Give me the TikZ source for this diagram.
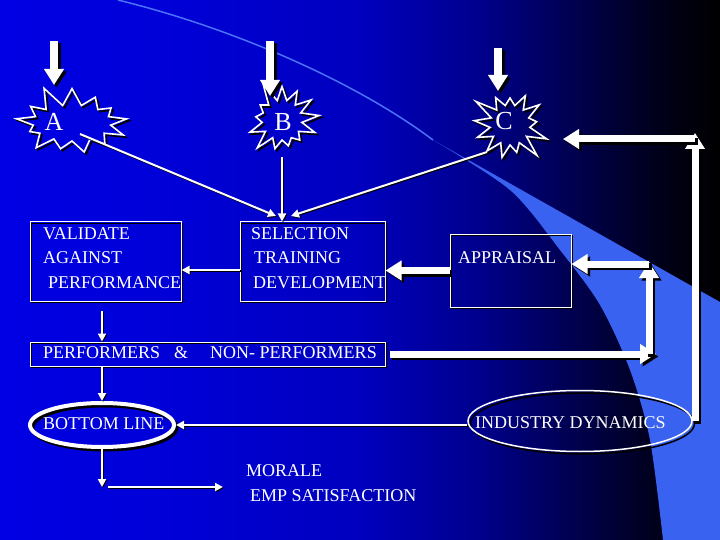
\documentclass[tikz,border=0pt]{standalone}
\usepackage{fontspec}
\setmainfont{Liberation Serif}
\usetikzlibrary{arrows.meta,shapes.symbols,shapes.geometric}
\definecolor{bgA}{RGB}{0,0,228}
\definecolor{bgB}{RGB}{0,0,214}
\definecolor{bgC}{RGB}{0,0,190}
\definecolor{bgD}{RGB}{0,0,140}
\definecolor{bgE}{RGB}{0,0,75}
\definecolor{bgF}{RGB}{0,0,25}
\definecolor{swoosh}{RGB}{58,98,240}
\definecolor{swline}{RGB}{75,115,250}
\pgfdeclarehorizontalshading{slidebg}{100bp}{color(0bp)=(bgA); color(25bp)=(bgA); color(37.5bp)=(bgB); color(50bp)=(bgC); color(58.3bp)=(bgD); color(65.3bp)=(bgE); color(70.8bp)=(bgF); color(75bp)=(black); color(100bp)=(black)}
\tikzset{
  txt/.style={text=white, font=\fontsize{18}{22}\selectfont, inner sep=0pt, anchor=west},
  letter/.style={text=white, font=\fontsize{26}{28}\selectfont, inner sep=0pt},
  boxnode/.style={draw=white, line width=1pt, inner sep=0pt,
    preaction={draw=black, line width=1.2pt, transform canvas={shift={(1.5pt,-1.5pt)}}}},
  burst/.style={starburst, draw=white, line width=1.6pt, inner sep=0pt, starburst points=13,
    starburst point height=22pt,
    preaction={draw=black, line width=1.6pt, transform canvas={shift={(2pt,-2pt)}}}},
  fat/.style={draw=white, line width=7pt, -{Triangle[width=19pt,length=16pt]},
    preaction={draw=black, line width=7pt, -{Triangle[width=19pt,length=16pt]}, transform canvas={shift={(2.5pt,-2.5pt)}}}},
  fatter/.style={fat, line width=8.5pt,
    preaction={draw=black, line width=8.5pt, -{Triangle[width=19pt,length=16pt]}, transform canvas={shift={(2.5pt,-2.5pt)}}}},
  slim/.style={draw=white, line width=2pt, -{Triangle[width=8pt,length=8pt]},
    preaction={draw=black, line width=2pt, -{Triangle[width=8pt,length=8pt]}, transform canvas={shift={(1pt,-1pt)}}}},
}
\begin{document}
\begin{tikzpicture}[x=1pt,y=-1pt]
\shade[shading=slidebg] (0,0) rectangle (720,540);
\useasboundingbox (0,0) rectangle (720,540);
% swoosh
\fill[swoosh] plot[smooth] coordinates {(433,140) (510,190) (560,250) (600,305) (630,370) (650,440) (663,540)}
  -- (720,540) -- (720,302) -- cycle;
\draw[swline, line width=1.5pt] (118,0) .. controls (240,30) and (360,85) .. (433,140);

% starbursts
\node[burst, minimum width=122pt, minimum height=80pt, random starburst=11] (A) at (72,123) {};
\node[burst, minimum width=84pt, minimum height=84pt, random starburst=5] (B) at (282,120) {};
\node[burst, minimum width=84pt, minimum height=84pt, random starburst=3] (C) at (510,125) {};
\node[letter] (Alab) at (54,122) {A};
\node[letter] (Blab) at (283,122) {B};
\node[letter] (Clab) at (504,121) {C};

% boxes
\node[boxnode, minimum width=151pt, minimum height=79pt] (VAL) at (105.5,261.5) {};
\node[boxnode, minimum width=145pt, minimum height=79pt] (SEL) at (312.5,261.5) {};
\node[boxnode, minimum width=121pt, minimum height=73pt] (APP) at (510.5,270.5) {};
\node[boxnode, minimum width=355pt, minimum height=24pt] (PERF) at (207.5,354) {};

\node[txt] (v1) at (43,234) {VALIDATE};
\node[txt] (v2) at (43,258) {AGAINST};
\node[txt] (v3) at (48,283) {PERFORMANCE};
\node[txt] (s1) at (251,234) {SELECTION};
\node[txt] (s2) at (254,258) {TRAINING};
\node[txt] (s3) at (253,283) {DEVELOPMENT};
\node[txt] (a1) at (458,258) {APPRAISAL};
\node[txt] (p1) at (43,353) {PERFORMERS\hspace{14pt}\&\hspace{22pt}NON- PERFORMERS};

% ellipses
\node[ellipse, draw=white, line width=4pt, minimum width=144pt, minimum height=44pt, inner sep=0pt,
  preaction={draw=black, line width=4pt, transform canvas={shift={(2.5pt,-2.5pt)}}}] (BL) at (102,425) {};
\node[txt] (bl) at (43,424) {BOTTOM LINE};
\node[ellipse, draw=white, line width=1.5pt, minimum width=224pt, minimum height=61pt, inner sep=0pt,
  preaction={draw=black, line width=1.5pt, transform canvas={shift={(2.5pt,-2.5pt)}}}] (IND) at (580,421) {};
\node[txt] (ind) at (475,423) {INDUSTRY DYNAMICS};

\node[txt] (mo) at (246,471) {MORALE};
\node[txt] (es) at (250,496) {EMP SATISFACTION};

% thick arrows from top
\coordinate (a0) at (54,41);  \coordinate (a9) at (54,85);
\coordinate (b0) at (270,41); \coordinate (b9) at (270,96);
\coordinate (c0) at (498,48); \coordinate (c9) at (498,91);
\draw[fatter] (a0) -- (a9);
\draw[fatter] (b0) -- (b9);
\draw[fatter] (c0) -- (c9);

% thin arrows into SELECTION
\coordinate (At) at (80,134);
\coordinate (Ct) at (487,152);
\coordinate (hubA) at (276,216);
\coordinate (hubC) at (291,216);
\coordinate (Bt) at (282,157);
\draw[slim] (At) -- (hubA);
\draw[slim] (Ct) -- (hubC);
\draw[slim] (Bt) -- (Bt |- SEL.north);

% SELECTION -> VALIDATE
\draw[slim] ([yshift=-8.5pt]SEL.west) -- ([yshift=-8.5pt]SEL.west -| VAL.east);
% APPRAISAL -> SELECTION
\draw[fat] (APP.west) -- (APP.west -| SEL.east);
% VALIDATE -> PERFORMERS
\coordinate (vp) at (102,311);
\draw[slim] (vp) -- (vp |- PERF.north);
% PERFORMERS -> BOTTOM LINE
\draw[slim] (BL.north |- PERF.south) -- (BL.north);
% BOTTOM LINE -> down, then to MORALE
\coordinate (bd) at (102,487);
\draw[slim] (BL.south) -- (bd);
\coordinate (mo1) at (108,487);
\coordinate (mo2) at (223,487);
\draw[slim] (mo1) -- (mo2);
% INDUSTRY -> BOTTOM LINE
\draw[slim] (IND.west |- BL.east) -- (BL.east);

% loop PERFORMERS -> APPRAISAL
\coordinate (k1) at (656,354);
\coordinate (k2) at (649,262);
\draw[fat] ([xshift=4pt]PERF.east) -- (k1);
\draw[fat] (k2 |- PERF.east) -- (k2);
\draw[fat] ([yshift=-2pt]k2) -- ([yshift=-2pt]k2 -| APP.east);

% loop INDUSTRY -> C
\coordinate (m1) at (695,133);
\coordinate (m2) at (695,139);
\coordinate (m3) at (563,139);
\draw[fat] (IND.east -| m1) -- (m1);
\draw[fat] (m2) -- (m3);
\end{tikzpicture}
\end{document}
